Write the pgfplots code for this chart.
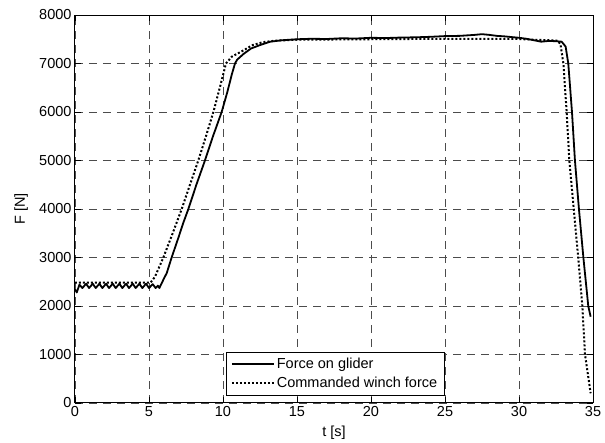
\documentclass[border=0pt]{standalone}
\usepackage{fontspec}
\setmainfont{Liberation Sans}
\usepackage{pgfplots}
\pgfplotsset{compat=1.18}
\begin{document}
\begin{tikzpicture}
\begin{axis}[
  scale only axis,
  width=518pt, height=388pt,
  xmin=0, xmax=35, ymin=0, ymax=8000,
  xtick={0,5,...,35}, ytick={0,1000,...,8000},
  font=\fontsize{14.5pt}{17pt}\selectfont,
  /pgf/number format/assume math mode=true,
  scaled y ticks=false,
  yticklabel style={/pgf/number format/1000 sep={}},
  tick align=inside,
  tick pos=both,
  major tick length=6pt,
  tick style={black, line width=0.8pt},
  axis line style={black, line width=1pt},
  grid=major,
  major grid style={black!70, line width=0.8pt, dash pattern=on 8pt off 6pt},
  xlabel={t [s]}, ylabel={F [N]},
  xlabel style={at={(axis description cs:0.5,-0.077)}, anchor=center},
  ylabel style={at={(axis description cs:-0.104,0.5)}, anchor=center},
  legend cell align=left,
  legend style={at={(0.502,0.0206)}, anchor=south, draw=black,
    font=\fontsize{14.5pt}{17pt}\selectfont, inner xsep=5pt, inner ysep=4pt,
    row sep=3pt},
  legend image code/.code={\draw[#1] (0pt,0pt) -- (42pt,0pt);},
]
\addplot[black, line width=1.8pt, line join=round] coordinates {
(0,2340) (0.12,2280) (0.3,2440) (0.5,2370) (0.75,2460) (0.95,2370) (1.2,2460) (1.4,2370)
(1.65,2460) (1.85,2370) (2.1,2460) (2.3,2370) (2.55,2460) (2.75,2370) (3.0,2460) (3.2,2370)
(3.45,2460) (3.65,2370) (3.9,2460) (4.1,2370) (4.35,2460) (4.55,2370) (4.8,2460) (5.0,2370)
(5.25,2450) (5.45,2370) (5.6,2420) (5.7,2370)
(6.0,2560) (6.2,2680) (6.53,3000) (7.0,3420) (7.3,3700) (7.66,4000) (8.2,4500) (8.78,5000)
(9.3,5480) (9.91,6000) (10.3,6420) (10.6,6780) (10.81,7000) (10.96,7080) (11.4,7200)
(11.9,7310) (12.5,7380) (13.2,7450) (14,7480) (15,7500)
(16,7510) (17,7505) (18,7520) (19,7515) (20,7530) (21,7525) (22,7535) (23,7540)
(24,7550) (25,7565) (26,7570) (27,7590) (27.5,7605) (28,7590) (28.5,7570) (29,7560)
(30,7530) (30.5,7510) (31,7480) (31.5,7450) (32,7465) (32.5,7460) (32.88,7450)
(33.15,7350) (33.33,7000) (33.58,6000) (33.78,5000) (34.05,4000) (34.35,3000)
(34.68,2000) (34.84,1780)
};
\addlegendentry{Force on glider}
\addplot[black, line width=2pt, dash pattern=on 2pt off 2pt] coordinates {
(0,2480) (5.1,2480) (5.4,2600) (5.97,3000) (6.6,3500) (7.21,4000) (7.8,4530) (8.33,5000)
(8.85,5500) (9.35,6000) (9.8,6520) (10.2,7000) (10.59,7140) (11.26,7250) (12.0,7380)
(12.7,7440) (13.5,7470) (15,7490) (20,7500) (25,7510) (28,7510) (30,7505)
(31,7490) (32,7480) (32.6,7470) (32.8,7400) (33.0,7000) (33.22,6000) (33.4,5000)
(33.7,4000) (34.0,3000) (34.28,2000) (34.46,1000) (34.68,540) (34.84,200)
};
\addlegendentry{Commanded winch force}
\end{axis}
\pgfresetboundingbox
\path (-75pt,-40pt) rectangle (530pt,403pt);
\end{tikzpicture}
\end{document}
